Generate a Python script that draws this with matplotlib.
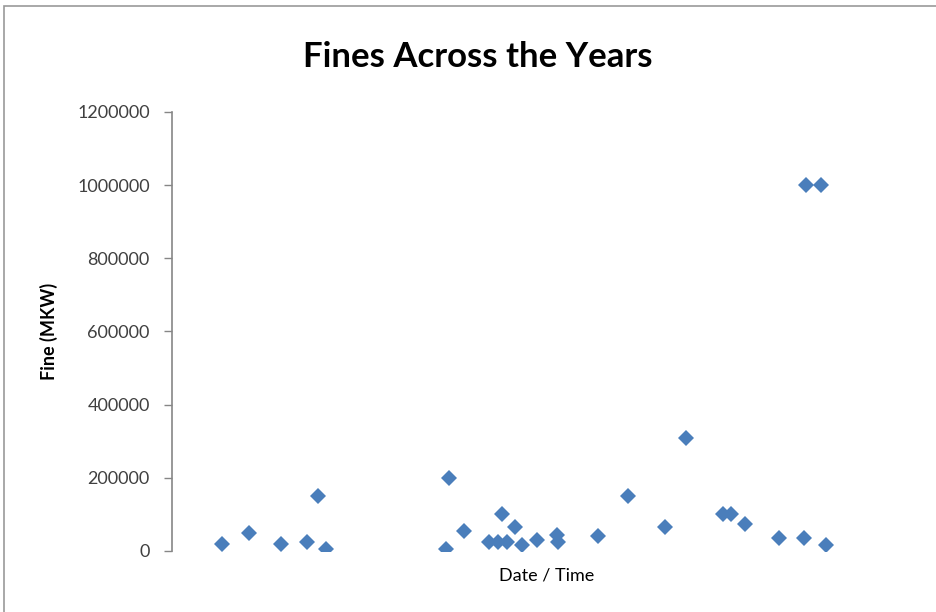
import numpy as np
import matplotlib.pyplot as plt
from matplotlib.patches import Rectangle

# months since the start of the record, and the fine in MKW
dates = [8.3, 12.9, 18.2, 22.5, 24.4, 25.7,
         45.6, 46.1, 48.6, 52.9, 54.4, 55.0, 55.9, 57.2, 58.3, 60.9, 64.1, 64.4,
         71.0, 76.0, 82.2, 85.7, 91.8, 93.1, 95.5, 101.2, 105.3, 105.7, 108.1, 109.0]
fines = [20000, 50000, 18000, 25000, 150000, 5000,
         5000, 200000, 55000, 25000, 25000, 100000, 25000, 65000, 15000, 30000, 45000, 25000,
         40000, 150000, 65000, 310000, 100000, 100000, 75000, 35000, 35000, 1000000, 1000000, 15000]

yticks = [0, 200000, 400000, 600000, 800000, 1000000, 1200000]

plt.rcParams['font.family'] = ['Lato', 'DejaVu Sans']

fig = plt.figure(figsize=(9.37, 6.12), dpi=100)
ax = fig.add_axes([0.1836, 0.0997, 0.8004, 0.7173])

# chart frame, open on the right and bottom
fig.patches.append(Rectangle((4 / 937, -0.05), 1.1, 1 - 6 / 612 + 0.05,
                             transform=fig.transFigure, fill=False,
                             edgecolor='#999999', linewidth=1.2))

ax.plot(dates, fines, linestyle='none', marker='D', markersize=8,
        color='#4a7ebb', markeredgewidth=0)

ax.set_xlim(0, 125)
ax.set_ylim(0, 1200000)
ax.set_yticks(yticks)
ax.set_yticklabels([str(v) for v in yticks], fontsize=13, color='#404040')
ax.set_xticks([])

for side in ['top', 'right', 'bottom']:
    ax.spines[side].set_visible(False)
ax.spines['left'].set_color('#868686')
ax.spines['left'].set_linewidth(1.2)
ax.tick_params(axis='y', direction='out', length=6, width=1, color='#868686', pad=10)

ax.set_ylabel('Fine (MKW)', fontsize=13, fontweight='bold', labelpad=14)
ax.set_xlabel('Date / Time', fontsize=13, labelpad=12)

fig.text(478 / 937, 1 - 57 / 612, 'Fines Across the Years', ha='center', va='center',
         fontsize=25, fontweight='bold')

fig.savefig('out.png', dpi=100)
